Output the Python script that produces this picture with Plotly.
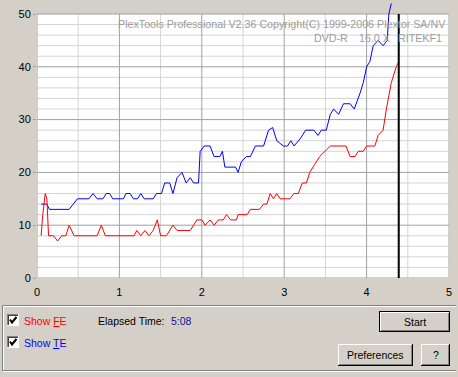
import plotly.graph_objects as go

# ---------------- data ----------------
fe_x = [0.05, 0.07, 0.10, 0.12, 0.14, 0.20, 0.25, 0.30, 0.35, 0.39, 0.45, 0.73, 0.78, 0.83, 1.18,
        1.21, 1.26, 1.31, 1.36, 1.41, 1.46, 1.50, 1.57, 1.65, 1.70, 1.86, 1.94, 2.00, 2.04, 2.10,
        2.15, 2.20, 2.26, 2.30, 2.35, 2.42, 2.44, 2.55, 2.59, 2.70, 2.75, 2.79, 2.83, 2.87, 2.91,
        2.95, 3.07, 3.12, 3.17, 3.22, 3.27, 3.31, 3.37, 3.43, 3.56, 3.75, 3.80, 3.86, 3.90, 3.96,
        4.00, 4.10, 4.14, 4.20, 4.24, 4.30, 4.36, 4.39]
fe_y = [8, 12, 16, 15, 8, 8, 7, 8, 8, 10, 8, 8, 10, 8, 8,
        9, 8, 9, 8, 9, 11, 8, 8, 10, 9, 9, 11, 11, 10, 11,
        10, 11, 11, 12, 11, 11, 12, 12, 13, 13, 14, 14, 16, 15, 16,
        15, 15, 16, 16, 18, 18, 20, 21.5, 23, 25, 25, 23, 23, 24, 24,
        25, 25, 27, 28, 32, 37, 40, 41]

te_x = [0.05, 0.12, 0.15, 0.39, 0.49, 0.63, 0.68, 0.73, 0.80, 0.84, 0.88, 0.92, 1.05, 1.08, 1.13,
        1.17, 1.22, 1.26, 1.30, 1.41, 1.45, 1.51, 1.55, 1.61, 1.65, 1.70, 1.76, 1.81, 1.86, 1.90,
        1.96, 1.98, 2.03, 2.10, 2.15, 2.22, 2.25, 2.28, 2.41, 2.44, 2.48, 2.54, 2.59, 2.65, 2.75,
        2.81, 2.86, 2.91, 2.99, 3.04, 3.08, 3.12, 3.20, 3.26, 3.36, 3.41, 3.45, 3.51, 3.56, 3.60,
        3.66, 3.72, 3.80, 3.85, 3.92, 3.96, 4.00, 4.04, 4.08, 4.14, 4.20, 4.25, 4.27, 4.30]
te_y = [14, 14, 13, 13, 15, 15, 16, 15, 15, 16, 16, 15, 15, 16, 16,
        15, 15, 16, 15, 15, 16, 16, 18, 18, 16, 19, 20, 18, 19, 18,
        18, 24, 25, 25, 23, 23, 24, 21, 21, 20, 22, 23, 23, 25, 25,
        28, 28.5, 26, 25, 25, 26, 25, 26.5, 28, 28, 27, 28, 28, 31, 32,
        31, 33, 33, 32, 35, 37, 40, 41, 44, 45, 44, 45, 50, 52]

x_ticks = [0, 1, 2, 3, 4, 5]
y_ticks = [0, 10, 20, 30, 40, 50]
x_max = 5
y_max = 50

title_line1 = "PlexTools Professional V2.36 Copyright(C) 1999-2006 Plextor SA/NV"
title_line2 = ["DVD-R", "16.0 X", "RITEKF1"]
elapsed_label = "Elapsed Time:"
elapsed_value = "5:08"

# ---------------- geometry ----------------
W, H = 458, 377
ML, MR, MT, MB = 37, 9, 2, 99
PW = W - ML - MR
PH = H - MT - MB
Y_TOP = y_max * PH / (PH - 12)   # plot extends a little above 50 (frame stops at 50)

BG = "#d4d0c8"
MAJOR = "#a0a0a0"
MINOR = "#d4d4d4"
FONT = "Liberation Sans, Arial, sans-serif"


def px(x):
    return (x - ML) / PW


def py(y):
    return (H - MB - y) / PH


fig = go.Figure()
fig.add_trace(go.Scatter(x=te_x, y=te_y, mode="lines", line=dict(color="#0000ff", width=1),
                         hoverinfo="skip", showlegend=False))
fig.add_trace(go.Scatter(x=fe_x, y=fe_y, mode="lines", line=dict(color="#ff0000", width=1),
                         hoverinfo="skip", showlegend=False))

shapes = []
# white plot area
shapes.append(dict(type="rect", xref="x", yref="y", x0=0, x1=x_max, y0=0, y1=y_max,
                   fillcolor="white", line=dict(width=0), layer="below"))
# minor grid
for i in range(1, 25):
    v = i * 2
    if v % 10:
        shapes.append(dict(type="line", xref="x", yref="y", x0=0, x1=x_max, y0=v, y1=v,
                           line=dict(color=MINOR, width=1), layer="below"))
for i in range(10):
    v = i + 0.5
    shapes.append(dict(type="line", xref="x", yref="y", x0=v, x1=v, y0=0, y1=y_max,
                       line=dict(color=MINOR, width=1), layer="below"))
# major grid
for v in y_ticks[1:-1]:
    shapes.append(dict(type="line", xref="x", yref="y", x0=0, x1=x_max, y0=v, y1=v,
                       line=dict(color=MAJOR, width=1), layer="below"))
for v in x_ticks[1:-1]:
    shapes.append(dict(type="line", xref="x", yref="y", x0=v, x1=v, y0=0, y1=y_max,
                       line=dict(color=MAJOR, width=1), layer="below"))
# frame
shapes.append(dict(type="rect", xref="x", yref="y", x0=0, x1=x_max, y0=0, y1=y_max,
                   line=dict(color=MAJOR, width=1), layer="below"))
# current position marker
shapes.append(dict(type="line", xref="x", yref="y", x0=fe_x[-1], x1=fe_x[-1], y0=0, y1=y_max,
                   line=dict(color="black", width=2), layer="above"))


def pline(x0, y0, x1, y1, color, width=1):
    shapes.append(dict(type="line", xref="paper", yref="paper",
                       x0=px(x0), y0=py(y0), x1=px(x1), y1=py(y1),
                       line=dict(color=color, width=width), layer="above"))


def prect(x0, y0, x1, y1, fill, color=None, width=0):
    shapes.append(dict(type="rect", xref="paper", yref="paper",
                       x0=px(x0), y0=py(y0), x1=px(x1), y1=py(y1), fillcolor=fill,
                       line=dict(color=color or fill, width=width), layer="above"))


# bottom panel etched border
pline(2.5, 305.5, 456, 305.5, "#808080")
pline(2.5, 306.5, 456, 306.5, "white")
pline(2.5, 305.5, 2.5, 371.5, "#808080")
pline(3.5, 306.5, 3.5, 370.5, "white")
pline(2.5, 370.5, 456, 370.5, "#808080")
pline(2.5, 371.5, 456, 371.5, "white")


def button(x0, y0, x1, y1, default=False):
    if default:
        pline(x0, y0 + 0.5, x1, y0 + 0.5, "black")
        pline(x0 + 0.5, y0, x0 + 0.5, y1, "black")
        x0 += 1
        y0 += 1
    pline(x0, y0 + 0.5, x1 - 1, y0 + 0.5, "white")
    pline(x0 + 0.5, y0, x0 + 0.5, y1 - 1, "white")
    pline(x0, y1 - 0.5, x1, y1 - 0.5, "black")
    pline(x1 - 0.5, y0, x1 - 0.5, y1, "black")
    pline(x0 + 1, y1 - 1.5, x1 - 1, y1 - 1.5, "#808080")
    pline(x1 - 1.5, y0 + 1, x1 - 1.5, y1 - 1, "#808080")


button(379, 311, 450, 332, default=True)
button(338, 344, 413, 366)
button(421, 344, 450, 366)


def checkbox(x0, y0):
    prect(x0, y0, x0 + 12, y0 + 12, "white")
    pline(x0, y0 + 0.5, x0 + 12, y0 + 0.5, "#808080")
    pline(x0 + 0.5, y0, x0 + 0.5, y0 + 12, "#808080")
    pline(x0 + 1, y0 + 1.5, x0 + 11, y0 + 1.5, "#404040")
    pline(x0 + 1.5, y0 + 1, x0 + 1.5, y0 + 11, "#404040")
    pline(x0, y0 + 11.5, x0 + 12, y0 + 11.5, "white")
    pline(x0 + 11.5, y0, x0 + 11.5, y0 + 12, "white")
    path = "M {} {} L {} {} L {} {}".format(px(x0 + 3), py(y0 + 5.5), px(x0 + 5), py(y0 + 8.5),
                                         px(x0 + 9.5), py(y0 + 3))
    shapes.append(dict(type="path", xref="paper", yref="paper", path=path,
                       line=dict(color="black", width=2), layer="above"))


checkbox(7, 314)
checkbox(7, 336)

annotations = []


def label(text, x, y, color="black", size=10.5, anchor="left"):
    annotations.append(dict(text=text, x=px(x), y=py(y), xref="paper", yref="paper",
                            xanchor=anchor, yanchor="middle", showarrow=False,
                            font=dict(family=FONT, size=size, color=color)))


TITLE_GRAY = "#9c9c9c"
label(title_line1, 448, 24, TITLE_GRAY, 10.7, "right")
label(title_line2[0], 350, 38, TITLE_GRAY, 10.7, "right")
label(title_line2[1], 392, 38, TITLE_GRAY, 10.7, "right")
label(title_line2[2], 444, 38, TITLE_GRAY, 10.7, "right")

label("Show <u>F</u>E", 22, 320.5, "#ff0000")
label("Show <u>T</u>E", 22, 342.5, "#0000ff")
label(elapsed_label, 96, 320.5)
label(elapsed_value, 169, 320.5, "#101090")
label("Start", 414.5, 321.5, anchor="center")
label("Preferences", 375.5, 354.5, anchor="center")
label("?", 435.5, 354.5, anchor="center")

fig.update_layout(
    width=W, height=H,
    margin=dict(l=ML, r=MR, t=MT, b=MB, pad=0),
    paper_bgcolor=BG, plot_bgcolor=BG,
    showlegend=False,
    shapes=shapes,
    annotations=annotations,
    xaxis=dict(range=[0, x_max], tickmode="array", tickvals=x_ticks,
               ticktext=[str(v) for v in x_ticks], showgrid=False, zeroline=False,
               showline=False, ticks="", ticklabelstandoff=6,
               tickfont=dict(family=FONT, size=11, color="black"), fixedrange=True),
    yaxis=dict(range=[0, Y_TOP], tickmode="array", tickvals=y_ticks,
               ticktext=[str(v) for v in y_ticks], showgrid=False, zeroline=False,
               showline=False, ticks="outside", ticklen=3, tickcolor=MAJOR,
               tickfont=dict(family=FONT, size=11, color="black"), fixedrange=True),
)

fig.write_html("out.html", config={"displayModeBar": False},
               post_script="document.body.style.margin='0';document.body.style.background='" + BG + "';")
